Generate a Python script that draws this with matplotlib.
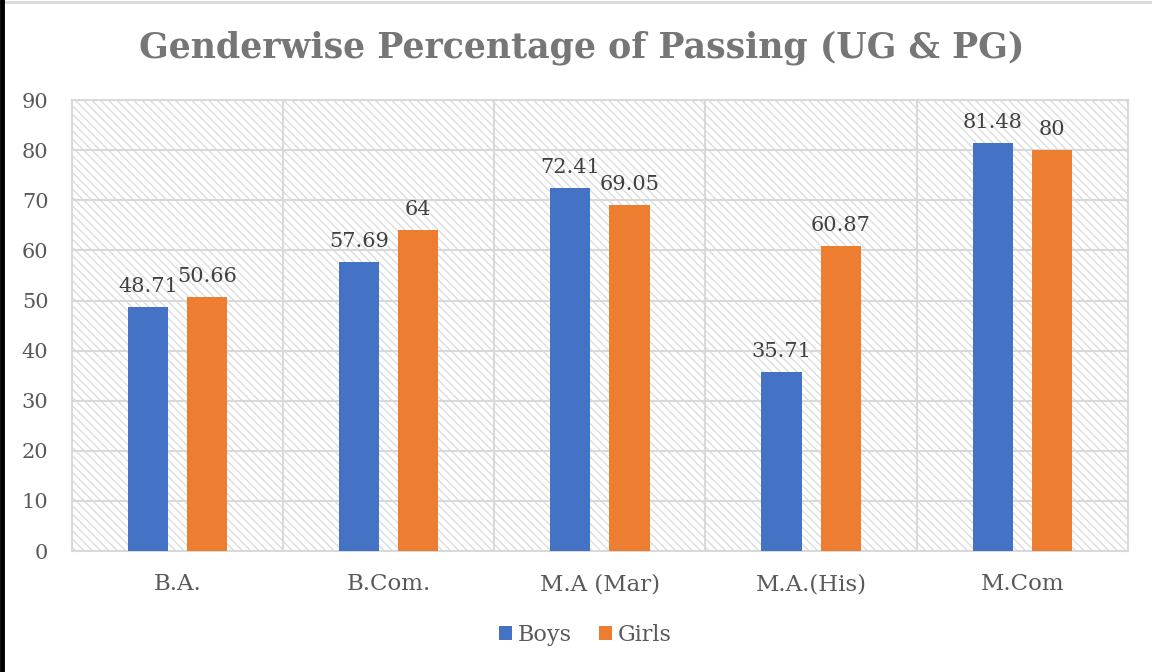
import matplotlib.pyplot as plt
import numpy as np
from matplotlib.patches import Rectangle
from matplotlib.lines import Line2D

categories = ['B.A.', 'B.Com.', 'M.A (Mar)', 'M.A.(His)', 'M.Com']
boys = [48.71, 57.69, 72.41, 35.71, 81.48]
girls = [50.66, 64, 69.05, 60.87, 80]
boys_labels = ['48.71', '57.69', '72.41', '35.71', '81.48']
girls_labels = ['50.66', '64', '69.05', '60.87', '80']

BLUE = '#4472c4'
ORANGE = '#ed7d31'
GRID = '#d9d9d9'
TEXT = '#595959'

plt.rcParams['font.family'] = ['DejaVu Serif']
plt.rcParams['hatch.color'] = '#dcdcdc'
plt.rcParams['hatch.linewidth'] = 1.0

fig = plt.figure(figsize=(11.52, 6.72), dpi=100)
ax = fig.add_axes([0.0625, 0.180, 0.9165, 0.671])

x = np.arange(len(categories))
w = 0.19
off = 0.14

# hatched plot-area background
ax.add_patch(Rectangle((0, 0), 1, 1, transform=ax.transAxes, facecolor='white',
                       hatch='\\\\\\\\', linewidth=0, zorder=0))

b1 = ax.bar(x - off, boys, w, color=BLUE, label='Boys', zorder=3)
b2 = ax.bar(x + off, girls, w, color=ORANGE, label='Girls', zorder=3)

for xi, v, s in zip(x - off, boys, boys_labels):
    ax.annotate(s, (xi, v), xytext=(0, 8), textcoords='offset points',
                ha='center', va='bottom', fontsize=15, color='#404040', zorder=4)
for xi, v, s in zip(x + off, girls, girls_labels):
    ax.annotate(s, (xi, v), xytext=(0, 8), textcoords='offset points',
                ha='center', va='bottom', fontsize=15, color='#404040', zorder=4)

ax.set_xlim(-0.5, len(categories) - 0.5)
ax.set_ylim(0, 90)
ax.set_yticks(np.arange(0, 91, 10))
ax.set_xticks(x)
ax.set_xticklabels(categories)
ax.set_xticks(np.arange(0.5, len(categories) - 0.5, 1), minor=True)

ax.grid(axis='y', which='major', color=GRID, linewidth=1.5, zorder=1)
ax.grid(axis='x', which='minor', color=GRID, linewidth=1.5, zorder=1)
ax.set_axisbelow(True)
ax.tick_params(axis='both', which='both', length=0, labelcolor=TEXT)
ax.tick_params(axis='y', labelsize=15, pad=17)
ax.tick_params(axis='x', labelsize=16.5, pad=16)
for sp in ax.spines.values():
    sp.set_color(GRID)
    sp.set_linewidth(1.5)

fig.suptitle('Genderwise Percentage of Passing (UG & PG)', x=0.505, y=0.955,
             fontsize=25, fontweight='bold', color='#767676')

fig.legend(handles=[b1, b2], loc='center', bbox_to_anchor=(0.508, 0.055), ncol=2,
           frameon=False, fontsize=16, handlelength=0.6, handleheight=0.6,
           handletextpad=0.25, columnspacing=1.2, labelcolor=TEXT)

# figure border: light top line, black left edge
fig.add_artist(Line2D([0, 1], [0.997, 0.997], transform=fig.transFigure,
                      color=GRID, linewidth=2))
fig.add_artist(Line2D([0.0015, 0.0015], [0, 1], transform=fig.transFigure,
                      color='black', linewidth=3.5))

fig.savefig('out.png', dpi=100)
